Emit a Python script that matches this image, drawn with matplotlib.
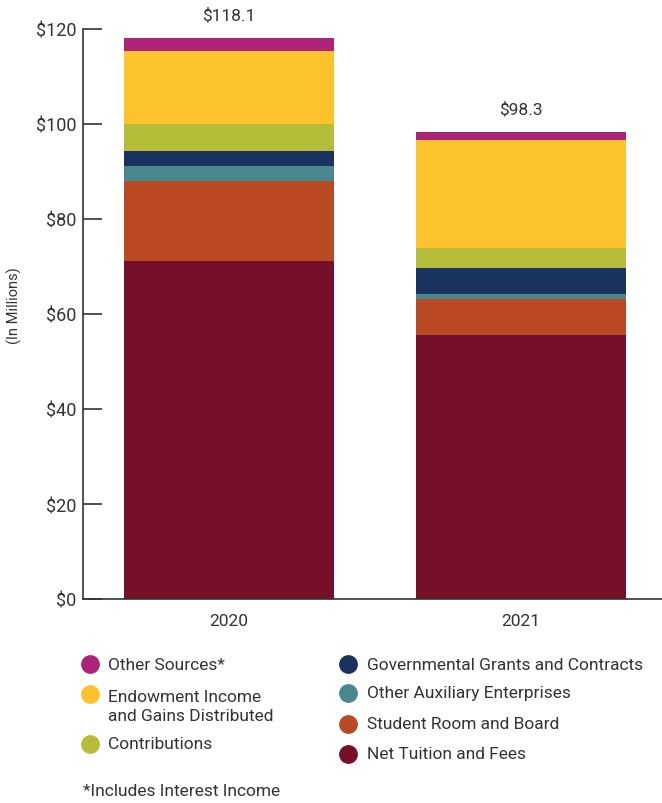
import matplotlib.pyplot as plt
from matplotlib.lines import Line2D
import numpy as np

plt.rcParams['font.family'] = ['Roboto', 'DejaVu Sans']

years = ['2020', '2021']
totals = [118.1, 98.3]

# stacked from bottom to top
tuition = [71.1, 55.6]
room_board = [17.0, 7.5]
auxiliary = [3.15, 1.05]
grants = [3.15, 5.45]
contributions = [5.7, 4.4]
endowment = [15.3, 22.7]
other = [2.7, 1.6]

series = [
    ('Net Tuition and Fees', tuition, '#760f2a'),
    ('Student Room and Board', room_board, '#ba4a24'),
    ('Other Auxiliary Enterprises', auxiliary, '#4a8890'),
    ('Governmental Grants and Contracts', grants, '#1a335e'),
    ('Contributions', contributions, '#b5bd38'),
    ('Endowment Income\nand Gains Distributed', endowment, '#fdc32d'),
    ('Other Sources*', other, '#ad2378'),
]

fig = plt.figure(figsize=(6.62, 8.04), dpi=100)
ax = fig.add_axes([83 / 662, 1 - 600 / 804, 1 - 83 / 662, 570 / 804])

x = np.arange(len(years))
bottom = np.zeros(len(years))
for name, vals, col in series:
    ax.bar(x, vals, width=0.72, bottom=bottom, color=col, linewidth=0)
    bottom += np.array(vals)

for xi, t in zip(x, totals):
    ax.annotate('${:.1f}'.format(t), (xi, t), xytext=(0, 11), textcoords='offset points',
                ha='center', va='bottom', fontsize=12.5, color='#333333')

ax.set_xlim(-0.5, 1.483)
ax.set_ylim(0, 120)
ax.set_yticks(range(0, 121, 20))
ax.set_yticklabels(['${}'.format(v) for v in range(0, 121, 20)])
ax.set_xticks(x)
ax.set_xticklabels(years)
ax.tick_params(axis='y', direction='in', length=14, width=1.2, labelsize=13,
               labelcolor='#333333', color='#333333', pad=5)
ax.tick_params(axis='x', length=0, labelsize=12.5, labelcolor='#333333', pad=10)
for s in ['top', 'right']:
    ax.spines[s].set_visible(False)
ax.spines['left'].set_color('#333333')
ax.spines['bottom'].set_color('#333333')
ax.spines['left'].set_linewidth(1.2)
ax.spines['bottom'].set_linewidth(1.2)

fig.text(14 / 662, 1 - 306 / 804, '(In Millions)', rotation=90, fontsize=10.5,
         color='#333333', ha='center', va='center')

# legend, laid out by hand
left_col = [('Other Sources*', 665), ('Endowment Income\nand Gains Distributed', 695), ('Contributions', 745)]
right_col = [('Governmental Grants and Contracts', 665), ('Other Auxiliary Enterprises', 694),
             ('Student Room and Board', 725), ('Net Tuition and Fees', 755)]
colors = {name: col for name, vals, col in series}


def legend_item(mx, tx, y, name):
    fy = 1 - y / 804
    fig.add_artist(Line2D([mx / 662], [fy], marker='o', markersize=12.5, color=colors[name],
                          linestyle='none', transform=fig.transFigure))
    if '\n' in name:
        fig.text(tx / 662, 1 - (y + 12) / 804, name, fontsize=12.5, color='#333333',
                 va='center', ha='left', linespacing=1.35)
    else:
        fig.text(tx / 662, fy, name, fontsize=12.5, color='#333333', va='center', ha='left')


for name, y in left_col:
    legend_item(90, 108, y, name)
for name, y in right_col:
    legend_item(348, 367, y, name)

fig.text(83 / 662, 1 - 792 / 804, '*Includes Interest Income', fontsize=12.5, color='#333333',
         ha='left', va='center')

fig.savefig('out.png', dpi=100)
